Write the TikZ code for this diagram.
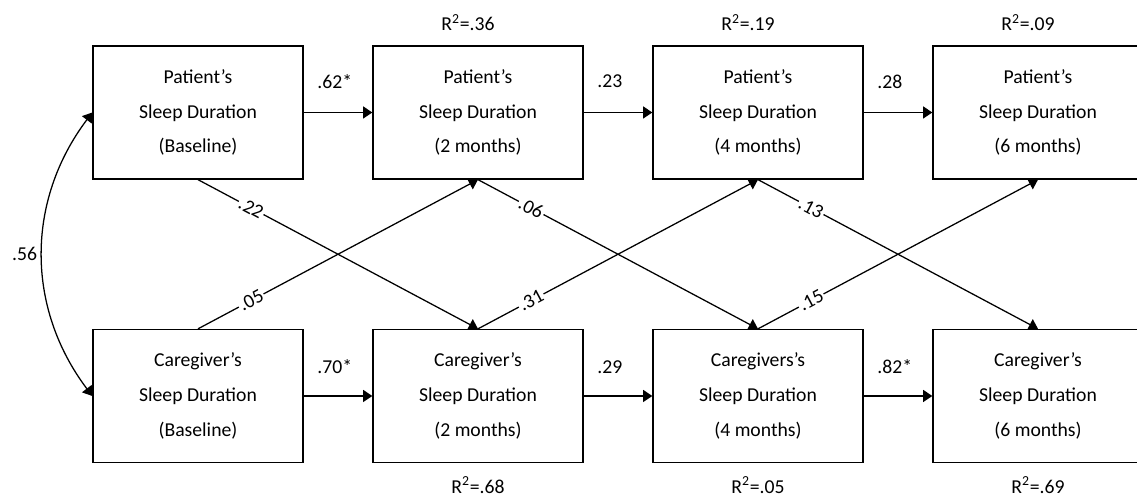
\documentclass[tikz,border=0pt]{standalone}
\usepackage{fontspec}
\setmainfont{Carlito}
\usetikzlibrary{arrows.meta}

\begin{document}
\begin{tikzpicture}[x=0.025cm, y=0.025cm, line width=0.9pt,
        >={Triangle[length=0.23cm,width=0.3cm]},
        varbox/.style={draw, minimum width=5.25cm, minimum height=3.325cm, inner sep=0pt,
            align=center, font=\fontsize{14}{24.8}\selectfont},
        coef/.style={font=\fontsize{14}{16}\selectfont},
        crosscoef/.style={coef, fill=white, inner sep=1pt, sloped, pos=0.19},
        rsq/.style={font=\fontsize{14}{16}\selectfont}]
            \useasboundingbox (0,0) rectangle (1137,497);
            % patient row
            \foreach \i/\x/\when in {0/198/Baseline,1/478/2 months,2/758/4 months,3/1038/6 months}{
                \node[varbox] (p\i) at (\x,384.5) {Patient’s\\Sleep Duration\\(\when)};
            }
            % caregiver row
            \foreach \i/\x/\when/\who in {0/198/Baseline/Caregiver’s,1/478/2 months/Caregiver’s,
                    2/758/4 months/Caregivers’s,3/1038/6 months/Caregiver’s}{
                \node[varbox] (c\i) at (\x,101) {\who\\Sleep Duration\\(\when)};
            }
            % stability paths
            \foreach \i/\j/\val in {0/1/.62*,1/2/.23,2/3/.28}{
                \draw[->] (p\i) -- node[coef, pos=0, anchor=west, xshift=0.21cm, yshift=0.775cm]{\val} (p\j);
            }
            \foreach \i/\j/\val in {0/1/.70*,1/2/.29,2/3/.82*}{
                \draw[->] (c\i) -- node[coef, pos=0, anchor=west, xshift=0.21cm, yshift=0.725cm]{\val} (c\j);
            }
            % cross-lagged paths
            \foreach \i/\j/\dn/\up in {0/1/.22/.05,1/2/.06/.31,2/3/.13/.15}{
                \draw[->] (p\i.south) -- node[crosscoef]{\dn} (c\j.north);
                \draw[->] (c\i.north) -- node[crosscoef]{\up} (p\j.south);
            }
            % explained variance
            \foreach \i/\r in {1/.36,2/.19,3/.09}{
                \node[rsq] (rp\i) at ([xshift=-0.25cm,yshift=0.575cm]p\i.north) {R\textsuperscript{2}=\r};
            }
            \foreach \i/\r in {1/.68,2/.05,3/.69}{
                \node[rsq] (rc\i) at ([yshift=-0.55cm]c\i.south) {R\textsuperscript{2}=\r};
            }
            % baseline correlation
            \draw[<->] (p0.west) to[bend right=37] node[coef, left]{.56} (c0.west);
\end{tikzpicture}
\end{document}
